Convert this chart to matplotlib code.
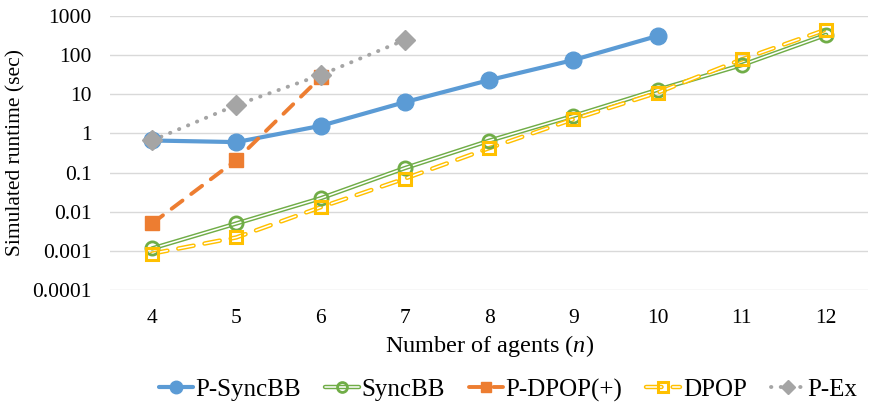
import matplotlib
matplotlib.use("Agg")
import matplotlib.pyplot as plt
import matplotlib.patheffects as pe
from matplotlib.legend_handler import HandlerTuple

plt.rcParams['font.family'] = ['Liberation Serif', 'DejaVu Serif']
plt.rcParams['mathtext.fontset'] = 'custom'
plt.rcParams['mathtext.rm'] = 'Liberation Serif'
plt.rcParams['mathtext.it'] = 'Liberation Serif:italic'

# agents (categories)
agents = [4, 5, 6, 7, 8, 9, 10, 11, 12]

# simulated runtimes in seconds
p_syncbb = [0.66, 0.6, 1.56, 6.3, 23, 75, 310]
syncbb = [0.00115, 0.005, 0.022, 0.13, 0.65, 2.8, 13, 56, 330]
p_dpop = [0.005, 0.21, 27]
dpop = [0.00085, 0.0022, 0.013, 0.07, 0.42, 2.3, 11, 78, 450]
p_ex = [0.66, 5.3, 31, 245]

yticks = [0.0001, 0.001, 0.01, 0.1, 1, 10, 100, 1000]
ytick_labels = ['0.0001', '0.001', '0.01', '0.1', '1', '10', '100', '1000']

blue = '#5B9BD5'
green = '#70AD47'
orange = '#ED7D31'
yellow = '#FFC000'
gray = '#A5A5A5'

fig = plt.figure(figsize=(8.7, 4.05), dpi=100)
ax = fig.add_axes([0.1264, 0.284, 0.8716, 0.6765])

pos = list(range(len(agents)))

def series(vals, color, lw, ls, marker, ms, mfc, mew, double=False):
    x = pos[:len(vals)]
    effects = None
    if double:
        effects = [pe.Stroke(linewidth=lw, foreground=color),
                   pe.Stroke(linewidth=lw * 0.35, foreground='white')]
    line, = ax.plot(x, vals, color=color, lw=lw, ls=ls, path_effects=effects,
                    dash_capstyle='round', solid_capstyle='round', zorder=3)
    mk, = ax.plot(x, vals, ls='none', marker=marker, ms=ms, mfc=mfc,
                  mec=color, mew=mew, zorder=4)
    return (line, mk)

handles = []
handles.append(series(p_syncbb, blue, 3.0, '-', 'o', 12, blue, 1))
handles.append(series(syncbb, green, 3.2, '-', 'o', 9.5, 'none', 2, double=True))
handles.append(series(p_dpop, orange, 2.8, (0, (3.5, 2.8)), 's', 9.5, orange, 1))
handles.append(series(dpop, yellow, 3.2, (0, (3.5, 2.5)), 's', 9, 'none', 2.2, double=True))
handles.append(series(p_ex, gray, 2.8, (0, (0.1, 2.4)), 'D', 10, gray, 1))

labels = ['P-SyncBB', 'SyncBB', 'P-DPOP(+)', 'DPOP', 'P-Ex']

ax.set_yscale('log')
ax.set_ylim(1e-4, 1e3)
ax.set_xlim(-0.5, len(agents) - 0.5)
ax.set_yticks(yticks)
ax.set_yticklabels(ytick_labels)
ax.minorticks_off()
ax.set_xticks(pos)
ax.set_xticklabels([str(a) for a in agents])
ax.tick_params(axis='both', length=0, labelsize=15.5)
ax.tick_params(axis='y', pad=13)
ax.tick_params(axis='x', pad=14)
ax.grid(axis='y', color='#D9D9D9', lw=1)
ax.set_axisbelow(True)
for s in ax.spines.values():
    s.set_visible(False)

ax.set_ylabel('Simulated runtime (sec)', fontsize=15.5, labelpad=5)
ax.set_xlabel(r'Number of agents ($\mathit{n}$)', fontsize=17.5, labelpad=3)

fig.legend(handles, labels, loc='center', bbox_to_anchor=(0.584, 0.037),
           ncol=5, frameon=False, fontsize=18, handlelength=1.35,
           handletextpad=0.12, columnspacing=0.95, markerscale=0.75,
           handler_map={tuple: HandlerTuple(ndivide=1)})

fig.savefig('out.png', dpi=100)
